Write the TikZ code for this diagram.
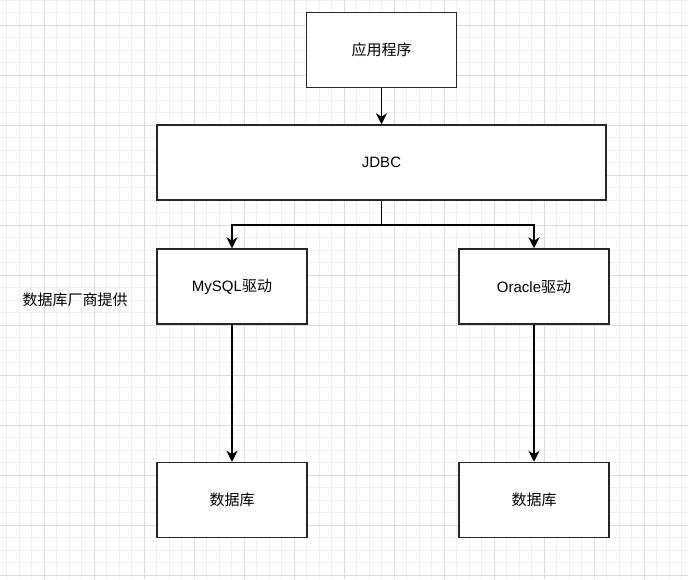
\documentclass[tikz,border=0pt]{standalone}
\usepackage{fontspec}
\setmainfont{Liberation Sans}
\newfontfamily\cjk{Noto Sans CJK SC}
\usetikzlibrary{arrows.meta}
\definecolor{gridminor}{HTML}{F0F0F0}
\definecolor{gridmajor}{HTML}{DCDCDC}
\tikzset{
  box/.style={draw=black!85, line width=1.5pt, fill=white, minimum width=150pt, minimum height=75pt, inner sep=0pt, font=\fontsize{15pt}{18pt}\selectfont},
  conn/.style={line width=1.5pt, -{Stealth[length=11pt,width=11pt,inset=3.5pt]}},
  plainline/.style={line width=1.5pt},
  lbl/.style={font=\fontsize{15pt}{18pt}\selectfont, inner sep=0pt}
}
\begin{document}
\begin{tikzpicture}[x=1pt,y=-1pt]
\useasboundingbox (0,0) rectangle (688,579);
\begin{scope}
\clip (0,0) rectangle (688,579);
\fill[white] (0,0) rectangle (688,579);
\foreach \i in {0,...,55} {
  \draw[gridminor, line width=1pt] ({6.5+12.5*\i},0) -- ({6.5+12.5*\i},579);
}
\foreach \i in {0,...,47} {
  \draw[gridminor, line width=1pt] (0,{12.5*\i}) -- (688,{12.5*\i});
}
\foreach \i in {0,...,13} {
  \draw[gridmajor, line width=1pt] ({44+50*\i},0) -- ({44+50*\i},579);
}
\foreach \i in {0,...,11} {
  \draw[gridmajor, line width=1pt] (0,{25+50*\i}) -- (688,{25+50*\i});
}
\end{scope}

\node[box] (app) at (381.5,50) {\cjk 应用程序};
\node[box, minimum width=449pt] (jdbc) at (381.5,162.5) {JDBC};
\node[box] (mysql) at (232,286.5) {MySQL{\cjk 驱动}};
\node[box] (oracle) at (534,286.5) {Oracle{\cjk 驱动}};
\node[box] (db1) at (232,500) {\cjk 数据库};
\node[box] (db2) at (534,500) {\cjk 数据库};
\node[lbl] (vendor) at (75,300) {\cjk 数据库厂商提供};

\coordinate (split) at (jdbc.south |- 0,225);
\draw[conn] (app) -- (jdbc);
\draw[plainline] (jdbc.south) -- (split);
\draw[conn] (split) -| (mysql.north);
\draw[conn] (split) -| (oracle.north);
\draw[conn] (mysql) -- (db1);
\draw[conn] (oracle) -- (db2);
\end{tikzpicture}
\end{document}
